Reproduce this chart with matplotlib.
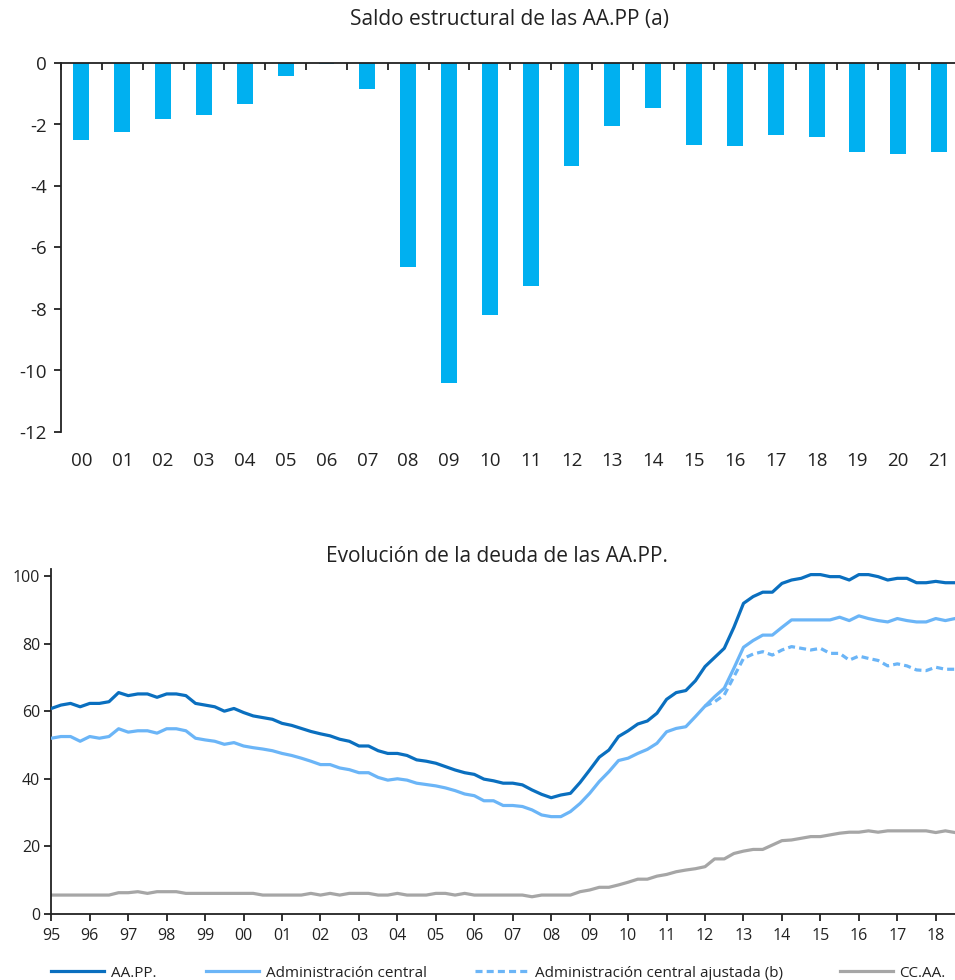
import matplotlib
matplotlib.use("Agg")
import matplotlib.pyplot as plt
import numpy as np

plt.rcParams['font.family'] = ['Open Sans', 'DejaVu Sans']

# ---- Data: structural balance (bars) ----
years_bar = ["00", "01", "02", "03", "04", "05", "06", "07", "08", "09", "10",
             "11", "12", "13", "14", "15", "16", "17", "18", "19", "20", "21"]
saldo = [-2.50, -2.24, -1.82, -1.68, -1.32, -0.41, -0.03, -0.86, -6.62, -10.40, -8.20,
         -7.24, -3.36, -2.04, -1.47, -2.66, -2.70, -2.35, -2.40, -2.90, -2.96, -2.90]

# ---- Data: debt (quarterly, 1995Q1 .. 2018Q3) ----
aapp = [60.8, 61.8, 62.3, 61.3, 62.3, 62.3, 62.8, 65.5, 64.6, 65.1, 65.1, 64.1, 65.1, 65.1, 64.6,
        62.3, 61.8, 61.3, 60.0, 60.8, 59.6, 58.6, 58.1, 57.6, 56.4, 55.8, 54.9, 54.0, 53.3, 52.7,
        51.7, 51.1, 49.7, 49.7, 48.3, 47.5, 47.5, 46.9, 45.6, 45.2, 44.6, 43.6, 42.6, 41.8, 41.3,
        39.9, 39.4, 38.7, 38.7, 38.2, 36.7, 35.4, 34.4, 35.2, 35.7, 38.9, 42.6, 46.4, 48.5, 52.5,
        54.2, 56.2, 57.1, 59.4, 63.5, 65.5, 66.1, 69.0, 73.2, 75.9, 78.6, 84.8, 91.9, 93.9, 95.2,
        95.2, 97.8, 98.8, 99.3, 100.4, 100.4, 99.8, 99.8, 98.8, 100.4, 100.4, 99.8, 98.8, 99.3, 99.3,
        98.0, 98.0, 98.4, 98.0, 98.0]
admin_central = [52.0, 52.5, 52.5, 51.1, 52.5, 52.0, 52.5, 54.8, 53.8, 54.2, 54.2, 53.5, 54.8, 54.8, 54.2,
                 52.0, 51.5, 51.1, 50.2, 50.7, 49.7, 49.2, 48.8, 48.3, 47.5, 46.9, 46.1, 45.2, 44.2, 44.2,
                 43.2, 42.7, 41.8, 41.8, 40.4, 39.6, 40.0, 39.6, 38.7, 38.3, 37.9, 37.3, 36.5, 35.5, 35.0,
                 33.5, 33.5, 32.1, 32.1, 31.8, 30.8, 29.3, 28.8, 28.8, 30.3, 32.7, 35.7, 39.2, 42.1, 45.4,
                 46.1, 47.5, 48.7, 50.5, 53.9, 54.9, 55.4, 58.4, 61.5, 64.3, 66.8, 72.7, 78.9, 80.9, 82.5,
                 82.5, 84.8, 87.0, 87.0, 87.0, 87.0, 87.0, 87.8, 86.8, 88.2, 87.4, 86.8, 86.4, 87.4, 86.8,
                 86.4, 86.4, 87.4, 86.8, 87.4]
# adjusted series starts at 2012Q1 (quarter index 68)
admin_ajustada = [61.5, 62.8, 64.8, 70.2, 75.6, 76.9, 77.6, 76.6, 78.1, 79.1, 78.6, 78.1, 78.6, 77.1,
                  77.1, 75.1, 76.3, 75.6, 75.0, 73.4, 74.0, 73.4, 72.2, 72.0, 73.0, 72.4, 72.4]
ccaa = [5.6, 5.6, 5.6, 5.6, 5.6, 5.6, 5.6, 6.3, 6.3, 6.6, 6.1, 6.6, 6.6, 6.6, 6.1,
        6.1, 6.1, 6.1, 6.1, 6.1, 6.1, 6.1, 5.6, 5.6, 5.6, 5.6, 5.6, 6.1, 5.6, 6.1,
        5.6, 6.1, 6.1, 6.1, 5.6, 5.6, 6.1, 5.6, 5.6, 5.6, 6.1, 6.1, 5.6, 6.1, 5.6,
        5.6, 5.6, 5.6, 5.6, 5.6, 5.1, 5.6, 5.6, 5.6, 5.6, 6.6, 7.1, 7.9, 7.9, 8.6,
        9.4, 10.3, 10.3, 11.2, 11.7, 12.5, 13.0, 13.4, 14.0, 16.3, 16.3, 17.9, 18.6, 19.1, 19.1,
        20.4, 21.7, 21.9, 22.4, 22.9, 22.9, 23.4, 23.9, 24.2, 24.2, 24.6, 24.2, 24.6, 24.6, 24.6,
        24.6, 24.6, 24.1, 24.6, 24.1]
year_labels = ["95", "96", "97", "98", "99", "00", "01", "02", "03", "04", "05", "06",
               "07", "08", "09", "10", "11", "12", "13", "14", "15", "16", "17", "18"]

title_top = "Saldo estructural de las AA.PP (a)"
title_bottom = "Evolución de la deuda de las AA.PP."
legend_labels = ["AA.PP.", "Administración central", "Administración central ajustada (b)", "CC.AA."]

C_BAR = "#00B0F0"
C_DARK = "#0A6FBF"
C_LIGHT = "#6BB5F7"
C_GRAY = "#A6A6A6"
TXT = "#222222"

W, H = 955, 980
fig = plt.figure(figsize=(W / 100, H / 100), dpi=100)

def fx(px):
    return px / W

def fy(py):
    return 1 - py / H

# ---------------- Top chart ----------------
axl, axr, axt, axb = 61, 959.5, 63, 432
ax1 = fig.add_axes([fx(axl), fy(axb), fx(axr - axl), fy(axt) - fy(axb)])
xb = np.arange(len(saldo))
ax1.bar(xb, saldo, width=0.39, color=C_BAR, zorder=2)
ax1.set_xlim(-0.5, len(saldo) - 0.5)
ax1.set_ylim(-12, 0)
ax1.set_yticks(np.arange(-12, 1, 2))
ax1.set_yticklabels([str(v) for v in range(-12, 1, 2)])
for s in ["right", "bottom"]:
    ax1.spines[s].set_visible(False)
for s in ["top", "left"]:
    ax1.spines[s].set_color(TXT)
    ax1.spines[s].set_linewidth(1.3)
ax1.spines["top"].set_zorder(3)
# boundary ticks on the zero line
ax1.xaxis.set_ticks_position("top")
ax1.set_xticks(np.arange(-0.5, len(saldo) - 0.4, 1.0))
ax1.set_xticklabels([])
ax1.tick_params(axis="x", which="major", direction="in", length=5, width=1.3, color=TXT, top=True, bottom=False)
ax1.tick_params(axis="y", direction="out", length=5, width=1.3, color=TXT, labelsize=13.5, labelcolor=TXT, pad=5)
lab_tr = matplotlib.transforms.blended_transform_factory(ax1.transData, fig.transFigure)
for i, lab in enumerate(years_bar):
    ax1.text(i, fy(461), lab, ha="center", va="center", fontsize=13.5, color=TXT,
             transform=lab_tr, clip_on=False)

fig.text(fx(509), fy(20), title_top, ha="center", va="center", fontsize=15, color=TXT)

# ---------------- Bottom chart ----------------
bl, br, bt, bb = 51.3, 955, 569.2, 914
ax2 = fig.add_axes([fx(bl), fy(bb), fx(br - bl), fy(bt) - fy(bb)])
q = np.arange(len(aapp))
t = 1995 + q / 4.0
t_adj = 1995 + (68 + np.arange(len(admin_ajustada))) / 4.0
ax2.plot(t, ccaa, color=C_GRAY, lw=2.3, label=legend_labels[3], zorder=2, solid_joinstyle="round")
ax2.plot(t, admin_central, color=C_LIGHT, lw=2.3, label=legend_labels[1], zorder=3, solid_joinstyle="round")
ax2.plot(t_adj, admin_ajustada, color=C_LIGHT, lw=2.3, ls=(0, (2.2, 1.3)), label=legend_labels[2], zorder=3)
ax2.plot(t, aapp, color=C_DARK, lw=2.3, label=legend_labels[0], zorder=4, solid_joinstyle="round")
ax2.set_xlim(1995, 2018.5)
ax2.set_ylim(0, 102)
ax2.set_yticks(np.arange(0, 101, 20))
ax2.set_xticks(np.arange(1995, 2019))
ax2.set_xticklabels(year_labels)
for s in ["right", "top"]:
    ax2.spines[s].set_visible(False)
for s in ["left", "bottom"]:
    ax2.spines[s].set_color(TXT)
    ax2.spines[s].set_linewidth(1.3)
ax2.tick_params(axis="both", direction="out", length=5, width=1.3, color=TXT, labelsize=11.5, labelcolor=TXT)
ax2.tick_params(axis="x", pad=5)
ax2.tick_params(axis="y", pad=3)

fig.text(fx(496.5), fy(556), title_bottom, ha="center", va="center", fontsize=15, color=TXT)

# ---------------- Legend ----------------
handles = {h.get_label(): h for h in ax2.get_lines()}
starts = [51, 206, 475, 840]
for lab, x0 in zip(legend_labels, starts):
    fig.legend([handles[lab]], [lab], loc="center left", bbox_to_anchor=(fx(x0), fy(973)),
               frameon=False, borderpad=0, borderaxespad=0, handlelength=3.5,
               handletextpad=0.4, fontsize=11, labelcolor=TXT)

fig.savefig("out.png", dpi=100)
